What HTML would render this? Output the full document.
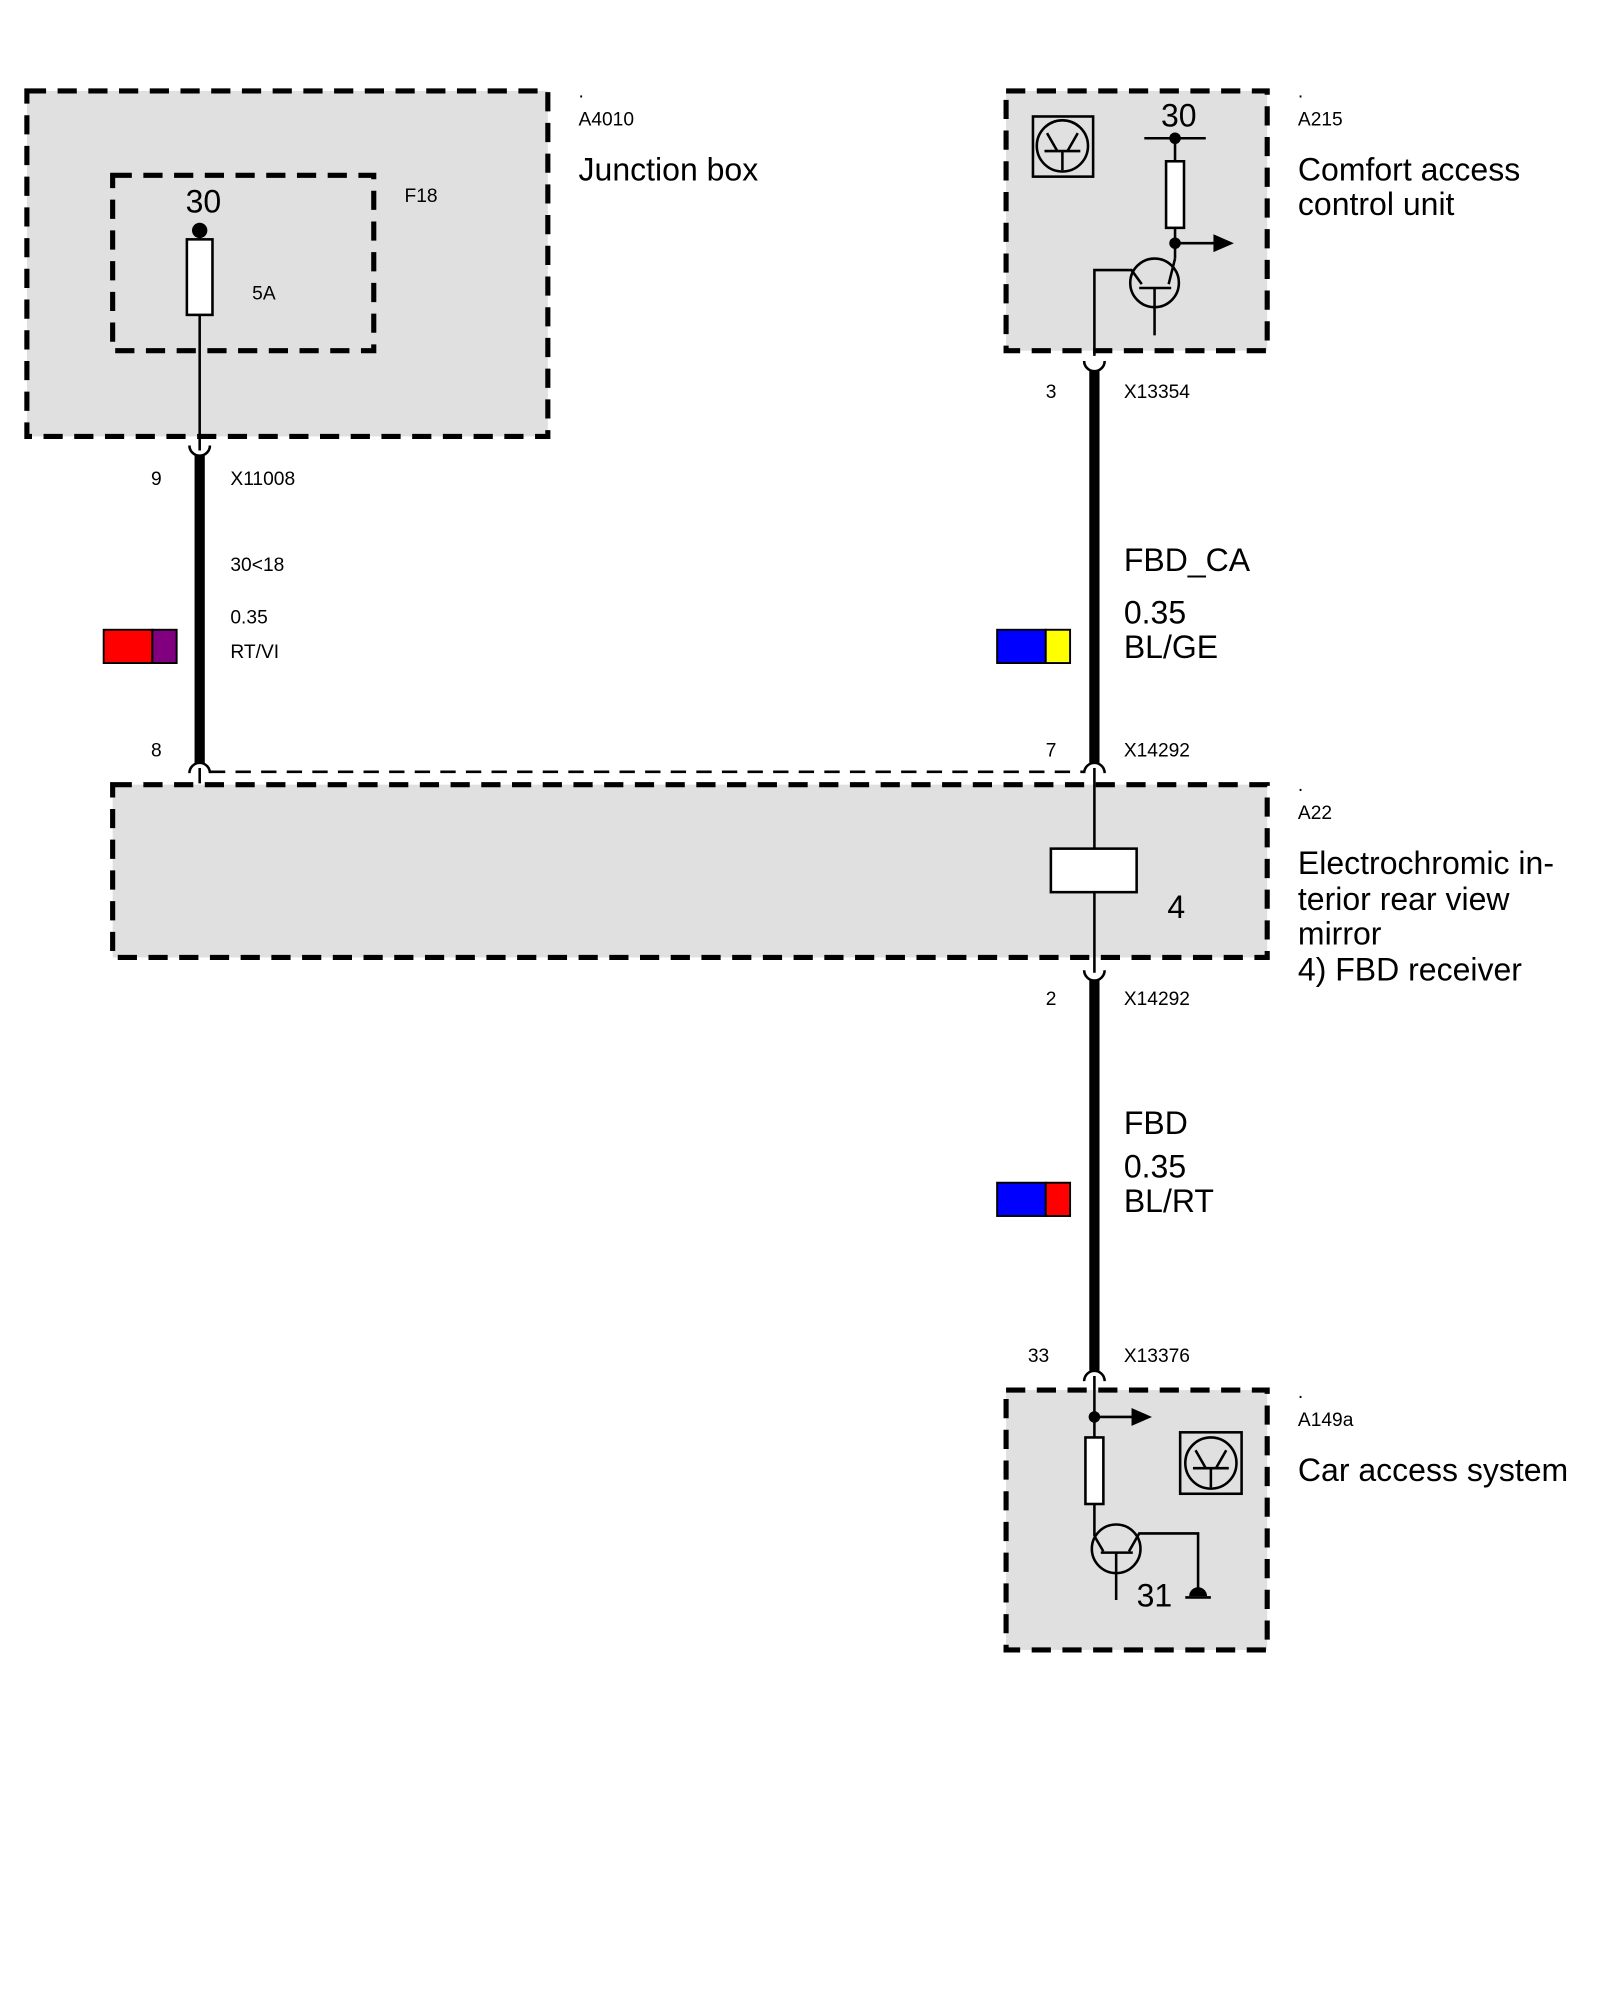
<!DOCTYPE html>
<html><head><meta charset="utf-8"><style>
html,body{margin:0;padding:0;background:#fff}
svg{display:block}
text{font-family:"Liberation Sans",Arial,sans-serif;fill:#000}
.s{font-size:15px}.l{font-size:25px}
.box{fill:#e0e0e0;stroke:#000;stroke-width:4;stroke-dasharray:15 9}
.t{stroke:#000;stroke-width:2;fill:none}
</style></head><body>
<svg width="1600" height="2000" viewBox="0 0 1250 1562.5" xmlns="http://www.w3.org/2000/svg">
<!-- A4010 -->
<rect class="box" x="21" y="71" width="407" height="270"/>
<rect class="box" x="88" y="137" width="204" height="137"/>
<text class="l" x="145" y="166">30</text>
<circle cx="156" cy="180" r="6"/>
<line class="t" x1="156" y1="180" x2="156" y2="352"/>
<rect x="146" y="187" width="20" height="59" fill="#fff" stroke="#000" stroke-width="2"/>
<text class="s" x="197" y="234">5A</text>
<text class="s" x="316" y="158">F18</text>
<text class="s" x="452" y="76">.</text>
<text class="s" x="452" y="98">A4010</text>
<text class="l" x="452" y="141">Junction box</text>
<!-- wire left -->
<path d="M148,348 a8,8 0 0 0 16,0" class="t" stroke-width="3"/>
<line x1="156" y1="356" x2="156" y2="596" stroke="#000" stroke-width="8"/>
<path d="M148,604 a8,8 0 0 1 16,0" class="t" stroke-width="3"/>
<line class="t" x1="156" y1="600" x2="156" y2="612"/>
<text class="s" x="118" y="379">9</text>
<text class="s" x="180" y="379">X11008</text>
<text class="s" x="180" y="446">30&lt;18</text>
<text class="s" x="180" y="487">0.35</text>
<text class="s" x="180" y="514">RT/VI</text>
<rect x="81" y="492" width="38" height="26" fill="#ff0000" stroke="#000" stroke-width="1.5"/>
<rect x="119" y="492" width="19" height="26" fill="#800080" stroke="#000" stroke-width="1.5"/>
<text class="s" x="118" y="591">8</text>
<!-- A215 -->
<rect class="box" x="786" y="71" width="204" height="203"/>
<rect x="807" y="91" width="47" height="47" fill="none" stroke="#000" stroke-width="2"/>
<circle cx="830" cy="114" r="20" class="t" stroke-width="2.5"/>
<line class="t" x1="816" y1="118" x2="844" y2="118"/><line class="t" x1="830" y1="118" x2="830" y2="133"/>
<line class="t" x1="818" y1="104" x2="826" y2="118"/><line class="t" x1="842" y1="104" x2="834" y2="118"/>
<text class="l" x="907" y="99">30</text>
<line class="t" x1="894" y1="108" x2="942" y2="108"/>
<circle cx="918" cy="108" r="4.5"/>
<line class="t" x1="918" y1="108" x2="918" y2="202"/>
<rect x="911" y="126" width="14" height="52" fill="#fff" stroke="#000" stroke-width="2"/>
<circle cx="918" cy="190" r="4.5"/>
<line class="t" x1="918" y1="190" x2="950" y2="190"/><path d="M948,183 L964,190 L948,197Z"/>
<circle cx="902" cy="221" r="19" class="t"/>
<line class="t" x1="890" y1="225" x2="915" y2="225"/><line class="t" x1="902" y1="225" x2="902" y2="262"/>
<path class="t" d="M855,278 V211 H884 L892,222"/>
<line class="t" x1="913" y1="222" x2="918" y2="202"/>
<text class="s" x="1014" y="76">.</text>
<text class="s" x="1014" y="98">A215</text>
<text class="l" x="1014" y="141">Comfort access</text>
<text class="l" x="1014" y="168">control unit</text>
<!-- wire right top -->
<path d="M847,282 a8,8 0 0 0 16,0" class="t" stroke-width="3"/>
<line x1="855" y1="290" x2="855" y2="596" stroke="#000" stroke-width="8"/>
<path d="M847,604 a8,8 0 0 1 16,0" class="t" stroke-width="3"/>
<text class="s" x="817" y="311">3</text>
<text class="s" x="878" y="311">X13354</text>
<text class="l" x="878" y="446">FBD_CA</text>
<text class="l" x="878" y="487">0.35</text>
<text class="l" x="878" y="514">BL/GE</text>
<rect x="779" y="492" width="38" height="26" fill="#0000ff" stroke="#000" stroke-width="1.5"/>
<rect x="817" y="492" width="19" height="26" fill="#ffff00" stroke="#000" stroke-width="1.5"/>
<text class="s" x="817" y="591">7</text>
<text class="s" x="878" y="591">X14292</text>
<!-- A22 -->
<rect class="box" x="88" y="613" width="902" height="135"/>
<line x1="164" y1="603" x2="847" y2="603" stroke="#000" stroke-width="2" stroke-dasharray="12 8"/>
<line class="t" x1="855" y1="600" x2="855" y2="760"/>
<rect x="821" y="663" width="67" height="34" fill="#fff" stroke="#000" stroke-width="2"/>
<text class="l" x="912" y="717">4</text>
<text class="s" x="1014" y="618">.</text>
<text class="s" x="1014" y="640">A22</text>
<text class="l" x="1014" y="683">Electrochromic in-</text>
<text class="l" x="1014" y="711">terior rear view</text>
<text class="l" x="1014" y="738">mirror</text>
<text class="l" x="1014" y="766">4) FBD receiver</text>
<!-- wire bottom -->
<path d="M847,758 a8,8 0 0 0 16,0" class="t" stroke-width="3"/>
<line x1="855" y1="766" x2="855" y2="1071" stroke="#000" stroke-width="8"/>
<path d="M847,1079 a8,8 0 0 1 16,0" class="t" stroke-width="3"/>
<text class="s" x="817" y="785">2</text>
<text class="s" x="878" y="785">X14292</text>
<text class="l" x="878" y="886">FBD</text>
<text class="l" x="878" y="920">0.35</text>
<text class="l" x="878" y="947">BL/RT</text>
<rect x="779" y="924" width="38" height="26" fill="#0000ff" stroke="#000" stroke-width="1.5"/>
<rect x="817" y="924" width="19" height="26" fill="#ff0000" stroke="#000" stroke-width="1.5"/>
<text class="s" x="803" y="1064">33</text>
<text class="s" x="878" y="1064">X13376</text>
<!-- A149a -->
<rect class="box" x="786" y="1086" width="204" height="203"/>
<line class="t" x1="855" y1="1075" x2="855" y2="1200"/>
<circle cx="855" cy="1107" r="4.5"/>
<line class="t" x1="855" y1="1107" x2="886" y2="1107"/><path d="M884,1100 L900,1107 L884,1114Z"/>
<rect x="848" y="1123" width="14" height="52" fill="#fff" stroke="#000" stroke-width="2"/>
<circle cx="872" cy="1210" r="19" class="t"/>
<line class="t" x1="860" y1="1213" x2="885" y2="1213"/><line class="t" x1="872" y1="1213" x2="872" y2="1250"/>
<line class="t" x1="855" y1="1200" x2="862" y2="1212"/>
<path class="t" d="M882,1212 L890,1198 H936 V1245"/>
<path d="M929,1247 a7,7 0 0 1 14,0Z"/><line class="t" x1="926" y1="1248" x2="946" y2="1248"/>
<text class="l" x="888" y="1255">31</text>
<rect x="922" y="1119" width="48" height="48" fill="none" stroke="#000" stroke-width="2"/>
<circle cx="946" cy="1143" r="20" class="t" stroke-width="2.5"/>
<line class="t" x1="932" y1="1147" x2="960" y2="1147"/><line class="t" x1="946" y1="1147" x2="946" y2="1162"/>
<line class="t" x1="934" y1="1133" x2="942" y2="1147"/><line class="t" x1="958" y1="1133" x2="950" y2="1147"/>
<text class="s" x="1014" y="1092">.</text>
<text class="s" x="1014" y="1114">A149a</text>
<text class="l" x="1014" y="1157">Car access system</text>
</svg>
</body></html>
